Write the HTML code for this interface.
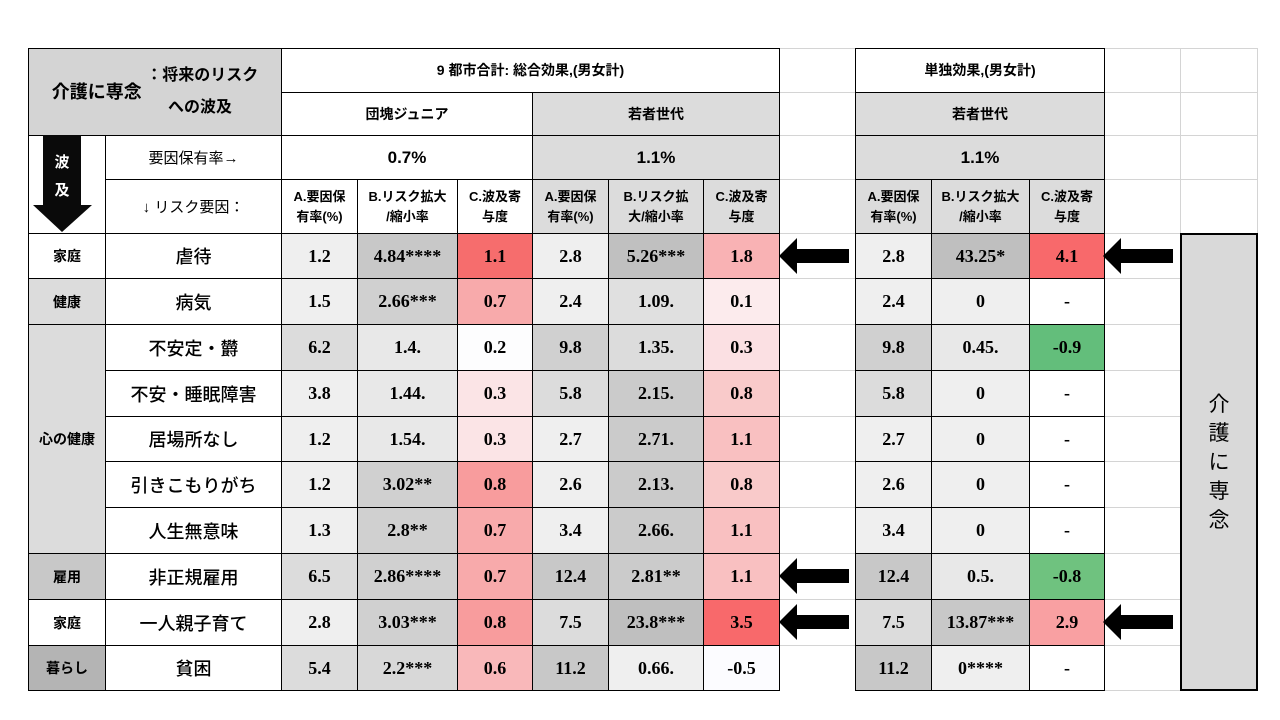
<!DOCTYPE html>
<html><head><meta charset="utf-8">
<style>
body{margin:0;width:1280px;height:720px;background:#fff;position:relative;overflow:hidden;font-family:"Liberation Sans","Noto Sans CJK JP",sans-serif;}
.c{position:absolute;box-sizing:border-box;border:1px solid #000;display:flex;align-items:center;justify-content:center;text-align:center;color:#000;}
.g{position:absolute;box-sizing:border-box;border:1px solid #d4d4d4;}
.n{font-family:"Liberation Serif","Noto Serif CJK SC",serif;font-weight:bold;font-size:18px;}
.h{font-weight:bold;font-size:14px;line-height:21px;}
.r{font-size:18px;font-weight:500;}
.cat{font-weight:bold;font-size:14px;}
.arrow{position:absolute;}
</style></head><body>
<div id="root"></div>
<script>
const xs=[28,105,281,357,457,532,608,703,779,855,931,1029,1104,1180,1257];
const ys=[48,92,135,179,233,278,324,370,416,461,507,553,599,645,690];
const factors=["虐待","病気","不安定・欝","不安・睡眠障害","居場所なし","引きこもりがち","人生無意味","非正規雇用","一人親子育て","貧困"];
const g1A=["1.2","1.5","6.2","3.8","1.2","1.2","1.3","6.5","2.8","5.4"];
const g1B=["4.84****","2.66***","1.4.","1.44.","1.54.","3.02**","2.8**","2.86****","3.03***","2.2***"];
const g1C=["1.1","0.7","0.2","0.3","0.3","0.8","0.7","0.7","0.8","0.6"];
const g2A=["2.8","2.4","9.8","5.8","2.7","2.6","3.4","12.4","7.5","11.2"];
const g2B=["5.26***","1.09.","1.35.","2.15.","2.71.","2.13.","2.66.","2.81**","23.8***","0.66."];
const g2C=["1.8","0.1","0.3","0.8","1.1","0.8","1.1","1.1","3.5","-0.5"];
const g3A=["2.8","2.4","9.8","5.8","2.7","2.6","3.4","12.4","7.5","11.2"];
const g3B=["43.25*","0","0.45.","0","0","0","0","0.5.","13.87***","0****"];
const g3C=["4.1","-","-0.9","-","-","-","-","-0.8","2.9","-"];
const arrowRows=[0,7,8];
const arrowRows3=[0,8];
const bgA1=["#efefef","#efefef","#dcdcdc","#efefef","#efefef","#efefef","#efefef","#dcdcdc","#efefef","#dcdcdc"];
const bgB1=["#c8c8c8","#d0d0d0","#e8e8e8","#e8e8e8","#e8e8e8","#d0d0d0","#d0d0d0","#d0d0d0","#d0d0d0","#d8d8d8"];
const bgC1=["#f66d6d","#f8aaab","#fdfdfe","#fbe4e6","#fbe4e6","#f89c9d","#f8aaab","#f8aaab","#f89c9d","#f9b8ba"];
const bgA2=["#efefef","#efefef","#d0d0d0","#dcdcdc","#efefef","#efefef","#efefef","#c8c8c8","#dcdcdc","#c8c8c8"];
const bgB2=["#c0c0c0","#e0e0e0","#dcdcdc","#cbcbcb","#cbcbcb","#cbcbcb","#cbcbcb","#cbcbcb","#bfbfbf","#efefef"];
const bgC2=["#f9b2b4","#fcebed","#fbe0e3","#f9caca","#f9c0c1","#f9caca","#f9c0c1","#f9c0c1","#f8696b","#fcfcff"];
const bgB3=["#bfbfbf","#efefef","#e8e8e8","#efefef","#efefef","#efefef","#efefef","#e8e8e8","#c8c8c8","#efefef"];
const bgC3=["#f8696b","#fff","#63be7b","#fff","#fff","#fff","#fff","#6fc27f","#f9a0a2","#fff"];
const root=document.getElementById('root');
function cell(c0,c1,r0,r1,text,cls,bg,name){
  const d=document.createElement('div');
  d.className=cls;
  d.style.left=xs[c0]+'px';d.style.top=ys[r0]+'px';
  d.style.width=(xs[c1]-xs[c0]+1)+'px';d.style.height=(ys[r1]-ys[r0]+1)+'px';
  d.style.background=bg||'#fff';
  d.innerHTML=text;
  
  
  root.appendChild(d);return d;
}
// light gridlines for empty areas
for(let r=0;r<13;r++){
  for(const c of [12,13]){ if(c===13&&r>=4) continue;
    const g=cell(c,c+1,r,r+1,'','g','transparent','gridline-cell');}
  const g2=cell(8,9,r,r+1,'','g','transparent','gridline-cell');
}
cell(12,13,13,14,'','g','transparent','gridline-cell');
// header
cell(0,2,0,2,'<span style="font-size:18px;line-height:32px">介護に専念</span><span style="font-size:16px;line-height:32px">&nbsp;：将来のリスク<br>への波及</span>','c h','#d4d4d4','table-title').style.fontSize='16px';
cell(2,8,0,1,'9 都市合計: 総合効果,(男女計)','c h','#fff','group-header-total');
cell(2,5,1,2,'団塊ジュニア','c h','#fff','subgroup-dankai');
cell(5,8,1,2,'若者世代','c h','#dcdcdc','subgroup-youth');
cell(9,12,0,1,'単独効果,(男女計)','c h','#fff','group-header-single');
cell(9,12,1,2,'若者世代','c h','#dcdcdc','subgroup-youth-single');
cell(0,1,2,4,'','c','#fff','spread-arrow-cell');
cell(1,2,2,3,'要因保有率→','c','#fff','prevalence-label').style.fontSize='15px';
cell(1,2,3,4,'↓ リスク要因：','c','#fff','risk-factor-label').style.fontSize='15px';
cell(2,5,2,3,'0.7%','c h','#fff','prevalence-dankai').style.fontSize='17px';
cell(5,8,2,3,'1.1%','c h','#dcdcdc','prevalence-youth').style.fontSize='17px';
cell(9,12,2,3,'1.1%','c h','#dcdcdc','prevalence-youth-single').style.fontSize='17px';
const colH=['A.要因保<br>有率(%)','B.リスク拡大<br>/縮小率','C.波及寄<br>与度'];
const colH2=['A.要因保<br>有率(%)','B.リスク拡<br>大/縮小率','C.波及寄<br>与度'];
[[2,'#fff',colH],[5,'#dcdcdc',colH2],[9,'#dcdcdc',colH]].forEach(([s,bg,hs])=>{
  for(let i=0;i<3;i++){const d=cell(s+i,s+i+1,3,4,hs[i],'c h',bg,'column-header');d.style.fontSize='13px';d.style.lineHeight='20px';}
});
// categories
cell(0,1,4,5,'家庭','c cat','#fff','category-family');
cell(0,1,5,6,'健康','c cat','#dcdcdc','category-health');
cell(0,1,6,11,'心の健康','c cat','#dcdcdc','category-mental');
cell(0,1,11,12,'雇用','c cat','#c8c8c8','category-employment');
cell(0,1,12,13,'家庭','c cat','#fff','category-family-2');
cell(0,1,13,14,'暮らし','c cat','#b4b4b4','category-living');
for(let i=0;i<factors.length;i++){
  const r=4+i;
  cell(1,2,r,r+1,factors[i],'c r','#fff','risk-factor-name');
  cell(2,3,r,r+1,g1A[i],'c n',bgA1[i],'dankai-a-value');
  cell(3,4,r,r+1,g1B[i],'c n',bgB1[i],'dankai-b-value');
  cell(4,5,r,r+1,g1C[i],'c n',bgC1[i],'dankai-c-value');
  cell(5,6,r,r+1,g2A[i],'c n',bgA2[i],'youth-a-value');
  cell(6,7,r,r+1,g2B[i],'c n',bgB2[i],'youth-b-value');
  cell(7,8,r,r+1,g2C[i],'c n',bgC2[i],'youth-c-value');
  cell(9,10,r,r+1,g3A[i],'c n',bgA2[i],'single-a-value');
  cell(10,11,r,r+1,g3B[i],'c n',bgB3[i],'single-b-value');
  cell(11,12,r,r+1,g3C[i],'c n',bgC3[i],'single-c-value');
}
const side=cell(13,14,4,14,'介<br>護<br>に<br>専<br>念','c','#d9d9d9','side-label-care');
side.style.fontSize='21px';side.style.lineHeight='29px';side.style.borderWidth='2px';
function leftArrow(x0,r,name){
  const y=(ys[r]+ys[r+1])/2;
  const s=document.createElementNS('http://www.w3.org/2000/svg','svg');
  s.setAttribute('width','72');s.setAttribute('height','40');
  s.style.position='absolute';s.style.left=x0+'px';s.style.top=(y-20)+'px';
  s.innerHTML='<polygon points="0,20 18,2 18,13 70,13 70,27 18,27 18,38" fill="#000"/>';
  
  
  root.appendChild(s);
}
arrowRows.forEach(i=>leftArrow(779,4+i,'highlight-arrow'));
arrowRows3.forEach(i=>leftArrow(1103,4+i,'highlight-arrow-single'));
// down arrow
const da=document.createElementNS('http://www.w3.org/2000/svg','svg');
da.setAttribute('width','77');da.setAttribute('height','98');
da.style.position='absolute';da.style.left='28px';da.style.top='135px';
da.innerHTML='<polygon points="15,0 53,0 53,70 64,70 34,97 5,70 15,70" fill="#0a0a0a"/><text x="34" y="32" fill="#fff" font-size="15" font-weight="bold" text-anchor="middle" font-family="Noto Sans CJK JP,sans-serif">波</text><text x="34" y="60" fill="#fff" font-size="15" font-weight="bold" text-anchor="middle" font-family="Noto Sans CJK JP,sans-serif">及</text>';


root.appendChild(da);
</script>
</body></html>
